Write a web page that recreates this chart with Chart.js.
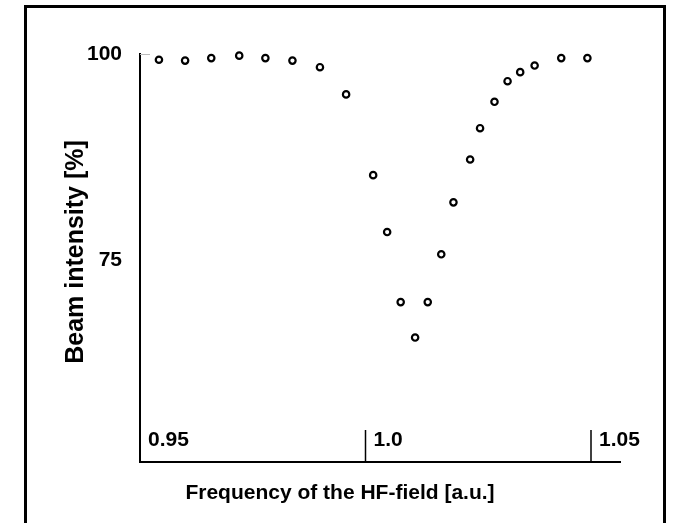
<!DOCTYPE html>
<html>
<head>
<meta charset="utf-8">
<script src="https://cdn.jsdelivr.net/npm/chart.js@4.4.1/dist/chart.umd.min.js"></script>
<style>
  html, body { margin: 0; padding: 0; background: #fff; }
  #wrap { position: relative; width: 679px; height: 523px; overflow: hidden; background: #fff; }
  #frame { position: absolute; left: 24px; top: 5px; width: 642px; height: 540px; border: 3px solid #000; border-bottom: none; box-sizing: border-box; }
  canvas { position: absolute; left: 0; top: 0; }
</style>
</head>
<body>
<div id="wrap">
  <div id="frame"></div>
  <canvas id="beamChart" width="679" height="523"></canvas>
</div>
<script>
// Frequency of the HF-field [a.u.] vs. beam intensity [%]
const frequency = [0.9542, 0.9600, 0.9658, 0.9720, 0.9778, 0.9838, 0.9899, 0.9957,
                   1.0017, 1.0048, 1.0078, 1.0110, 1.0138, 1.0168, 1.0195, 1.0232,
                   1.0254, 1.0286, 1.0315, 1.0343, 1.0375, 1.0434, 1.0492];
const intensity = [99.3, 99.2, 99.5, 99.8, 99.5, 99.2, 98.4, 95.1,
                   85.3, 78.4, 69.9, 65.6, 69.9, 75.7, 82.0, 87.2,
                   91.0, 94.2, 96.7, 97.8, 98.6, 99.5, 99.5];
const xTickValues = [0.95, 1.0, 1.05];
const xTickLabels = ["0.95", "1.0", "1.05"];
const yTickValues = [100, 75];
const yTickLabels = ["100", "75"];

const FONT = '"Liberation Sans", Arial, sans-serif';

// draws the ticks/labels the way the scanned figure has them (labels inside the plot)
const axisDecor = {
    id: 'axisDecor',
    afterDraw(chart) {
        const ctx = chart.ctx;
        const xs = chart.scales.x;
        const ys = chart.scales.y;
        const axisY = ys.getPixelForValue(ys.min);
        const axisX = xs.getPixelForValue(xs.min);
        ctx.save();
        ctx.fillStyle = '#000';
        ctx.strokeStyle = '#000';

        // x ticks go upward from the axis, label to the right of the tick
        ctx.font = 'bold 21px ' + FONT;
        ctx.textAlign = 'left';
        ctx.textBaseline = 'middle';
        xTickValues.forEach((v, i) => {
            const px = xs.getPixelForValue(v);
            if (i > 0) {
                ctx.lineWidth = 1.5;
                ctx.beginPath();
                ctx.moveTo(px, axisY);
                ctx.lineTo(px, axisY - 32);
                ctx.stroke();
            }
            ctx.fillText(xTickLabels[i], px + 8, axisY - 22);
        });

        // y labels left of the axis
        ctx.textAlign = 'right';
        yTickValues.forEach((v, i) => {
            const py = ys.getPixelForValue(v);
            ctx.fillText(yTickLabels[i], 122, py);
        });
        // faint top tick
        ctx.strokeStyle = '#bbb';
        ctx.lineWidth = 1;
        ctx.beginPath();
        ctx.moveTo(axisX, ys.getPixelForValue(100) + 0.5);
        ctx.lineTo(axisX + 10, ys.getPixelForValue(100) + 0.5);
        ctx.stroke();

        // axis titles
        ctx.fillStyle = '#000';
        ctx.font = 'bold 21px ' + FONT;
        ctx.textAlign = 'center';
        ctx.fillText('Frequency of the HF-field [a.u.]', 340, 493);

        ctx.translate(76, 252);
        ctx.rotate(-Math.PI / 2);
        ctx.font = 'bold 25px ' + FONT;
        ctx.fillText('Beam intensity [%]', 0, 0);
        ctx.restore();
    }
};

const points = frequency.map((f, i) => ({ x: f, y: intensity[i] }));

new Chart(document.getElementById('beamChart').getContext('2d'), {
    type: 'scatter',
    data: {
        datasets: [{
            data: points,
            pointRadius: 3.2,
            pointBorderWidth: 2.2,
            pointBorderColor: '#000',
            pointBackgroundColor: '#fff',
            clip: false
        }]
    },
    options: {
        responsive: false,
        animation: false,
        devicePixelRatio: 1,
        layout: { padding: { left: 140, right: 59, top: 54, bottom: 61 } },
        plugins: { legend: { display: false }, tooltip: { enabled: false } },
        scales: {
            x: {
                type: 'linear',
                min: 0.95,
                max: 0.95 + 480 / 4510,
                grid: { display: false, drawTicks: false },
                border: { display: true, color: '#000', width: 2 },
                ticks: { display: false }
            },
            y: {
                min: 50.5,
                max: 100,
                grid: { display: false, drawTicks: false },
                border: { display: true, color: '#000', width: 2 },
                ticks: { display: false }
            }
        }
    },
    plugins: [axisDecor]
});
</script>
</body>
</html>
